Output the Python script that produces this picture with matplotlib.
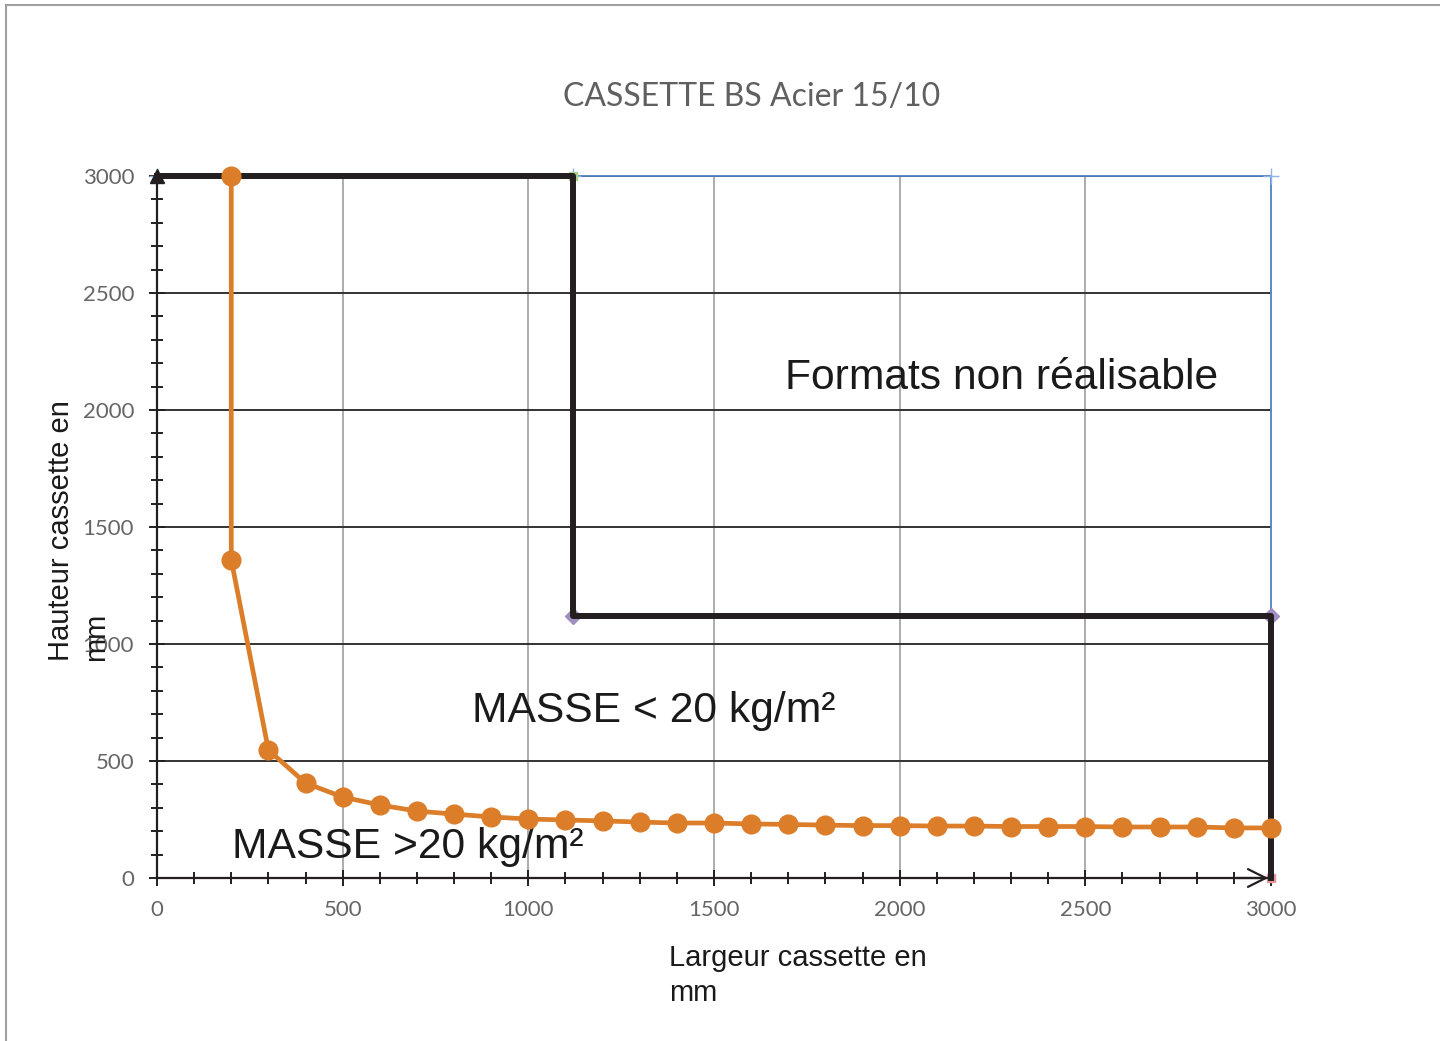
"""Cassette BS Acier 15/10 : hauteur max en fonction de la largeur."""

import matplotlib
matplotlib.use('Agg')
import matplotlib.pyplot as plt
from matplotlib.lines import Line2D
from matplotlib.ticker import MultipleLocator

# courbe limite de masse (20 kg/m2)
largeur = [200, 200, 300, 400, 500, 600, 700, 800, 900, 1000, 1100, 1200, 1300,
           1400, 1500, 1600, 1700, 1800, 1900, 2000, 2100, 2200, 2300, 2400,
           2500, 2600, 2700, 2800, 2900, 3000]
hauteur = [3000, 1360, 547, 406, 346, 312, 286, 273, 261, 252, 248, 244, 239,
           235, 235, 231, 229, 226, 224, 224, 222, 222, 220, 220, 220, 218,
           218, 218, 214, 214]

# limite des formats realisables
limite_x = [0, 1120, 1120, 3000, 3000]
limite_y = [3000, 3000, 1120, 1120, 0]

# contour des formats non realisables
contour_x = [0, 1120, 3000, 3000]
contour_y = [3000, 3000, 3000, 1120]

ticks = [0, 500, 1000, 1500, 2000, 2500, 3000]

ORANGE = '#dc7d2a'
NOIR = '#231f20'
GRIS = '#666666'

fig = plt.figure(figsize=(14.4, 10.41), dpi=100)
ax = fig.add_axes([157 / 1440, 1 - 878 / 1041, 1114 / 1440, 702 / 1041])

ax.set_xlim(0, 3000)
ax.set_ylim(0, 3000)

for s in ['top', 'right']:
    ax.spines[s].set_visible(False)
for s in ['left', 'bottom']:
    ax.spines[s].set_color(NOIR)
    ax.spines[s].set_linewidth(1.6)

ax.set_xticks(ticks)
ax.set_yticks(ticks)
ax.xaxis.set_minor_locator(MultipleLocator(100))
ax.yaxis.set_minor_locator(MultipleLocator(100))
ax.tick_params(which='both', direction='inout', color=NOIR, width=1.4,
               labelcolor=GRIS, labelsize=16)
ax.tick_params(which='major', length=11)
ax.tick_params(which='minor', length=9)
ax.tick_params(axis='x', pad=10)
ax.tick_params(axis='y', pad=11)
for lab in ax.get_xticklabels() + ax.get_yticklabels():
    lab.set_family('Lato')

for v in ticks[1:-1]:
    ax.axvline(v, color='#a6a6a6', lw=1.3, zorder=0)
for v in ticks[1:]:
    ax.axhline(v, color='#333333', lw=1.4, zorder=0)

ax.plot(contour_x, contour_y, color='#4f81bd', lw=1.3, marker='+',
        ms=12, mec='#8eb4e3', clip_on=False, zorder=2)
ax.plot([1120], [3000], marker='s', ms=6, color='#a9d18e', clip_on=False,
        zorder=2)
ax.plot(limite_x, limite_y, color=NOIR, lw=4.3, clip_on=False, zorder=3)
ax.plot([1120, 3000], [1120, 1120], ls='none', marker='D', ms=8,
        color='#9e8fc0', clip_on=False, zorder=2)
ax.plot([3000], [0], ls='none', marker='s', ms=6, color='#e6959b',
        clip_on=False, zorder=2)
ax.plot(largeur, hauteur, color=ORANGE, lw=3.4, marker='o', ms=13.5,
        clip_on=False, zorder=4)

# fleches des axes
ax.plot([0], [3000], marker='^', ms=10, color=NOIR, clip_on=False, zorder=5)
ax.annotate('', xy=(3000, 0), xytext=(2900, 0),
            arrowprops=dict(arrowstyle='->', color=NOIR, lw=1.6,
                            mutation_scale=32))

ax.text(1691, 2090, 'Formats non réalisable', fontsize=30.7,
        family='Liberation Sans', color='#1a1a1a', va='baseline')
ax.text(848, 667, 'MASSE < 20 kg/m²', fontsize=30.7,
        family='Liberation Sans', color='#1a1a1a', va='baseline')
ax.text(202, 85, 'MASSE >20 kg/m²', fontsize=30.7,
        family='Liberation Sans', color='#1a1a1a', va='baseline')

fig.text(752 / 1440, 1 - 97 / 1041, 'CASSETTE BS Acier 15/10', fontsize=23,
         family='Lato', color='#606060', ha='center', va='center')
fig.text(669 / 1440, 1 - 944 / 1041, 'Largeur cassette en\nmm', fontsize=21,
         family='Liberation Sans', color='#1a1a1a', ha='left', va='top',
         linespacing=1.3)
fig.text(47 / 1440, 1 - 661 / 1041, 'Hauteur cassette en\nmm', fontsize=21,
         family='Liberation Sans', color='#1a1a1a', ha='left', va='bottom',
         rotation=90, multialignment='left', linespacing=1.3)

# cadre du graphique
fig.add_artist(Line2D([6 / 1440, 6 / 1440], [0, 1 - 5 / 1041],
                      transform=fig.transFigure, color='#a0a0a0', lw=1.5))
fig.add_artist(Line2D([6 / 1440, 1], [1 - 5 / 1041, 1 - 5 / 1041],
                      transform=fig.transFigure, color='#a0a0a0', lw=1.5))

fig.savefig('out.png', dpi=100)
